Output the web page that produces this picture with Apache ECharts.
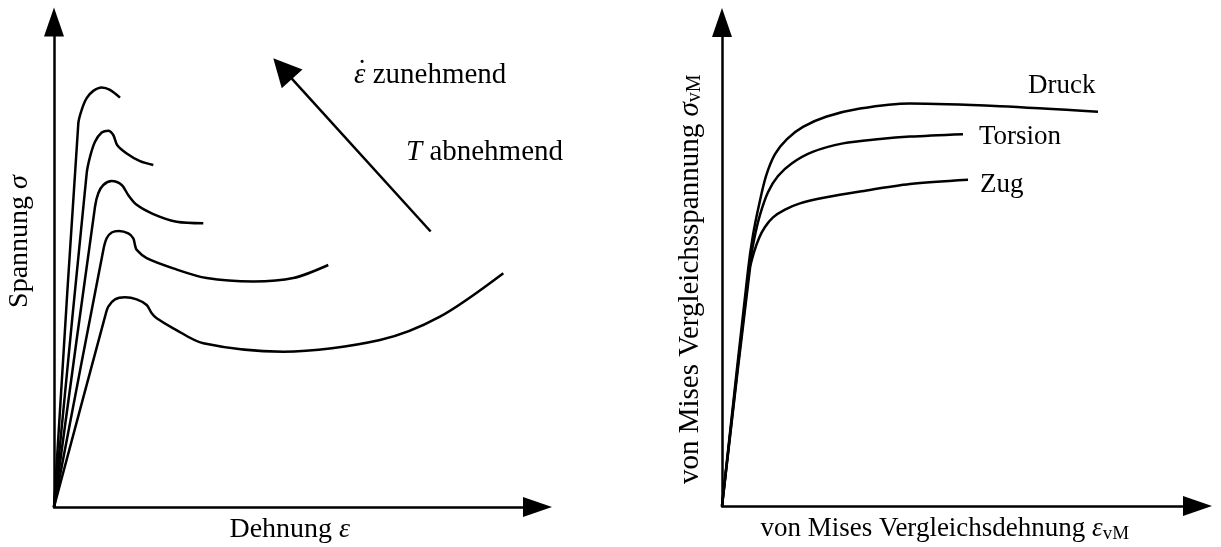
<!DOCTYPE html>
<html>
<head>
<meta charset="utf-8">
<script src="https://cdn.jsdelivr.net/npm/echarts@6/dist/echarts.min.js"></script>
<style>
  html, body { margin: 0; padding: 0; background: #fff; }
  #chart { width: 1221px; height: 547px; }
</style>
</head>
<body>
<div id="chart"></div>
<script>
// Left panel: flow curves sigma(epsilon), top curve = highest strain rate / lowest temperature.
// Units are arbitrary (0..100 along each axis).
const flowCurve1 = [[0, 0], [5.03, 79.1], [5.73, 81.9], [6.76, 84.3], [8.13, 85.8], [9.87, 86.5], [11.58, 86.0], [13.65, 84.4]];
const flowCurve2 = [[0, 0], [6.76, 68.8], [7.45, 72.2], [8.48, 75.3], [9.87, 77.2], [11.23, 77.6], [12.26, 76.7], [13.09, 74.6], [15.04, 72.9], [17.79, 71.3], [20.54, 70.5]];
const flowCurve3 = [[0, 0], [8.48, 61.9], [9.16, 64.7], [10.2, 66.4], [11.93, 67.2], [14.0, 66.4], [15.37, 64.3], [17.1, 62.3], [20.54, 60.4], [25.38, 58.8], [30.88, 58.5]];
const flowCurve4 = [[0, 0], [10.2, 53.0], [10.9, 55.4], [11.93, 56.6], [13.44, 56.9], [15.37, 56.4], [16.4, 55.4], [16.75, 54.0], [17.1, 53.0], [19.17, 51.3], [24.67, 49.2], [31.58, 47.2], [41.22, 46.5], [49.49, 47.2], [56.73, 49.9]];
const flowCurve5 = [[0, 0], [10.55, 39.24], [11.23, 41.3], [12.62, 42.82], [14.68, 43.24], [17.1, 42.82], [19.17, 41.65], [20.21, 39.94], [21.24, 38.9], [24.67, 36.85], [30.88, 33.75], [47.43, 32.02], [67.43, 34.43], [79.83, 39.24], [92.93, 48.19]];

// Trend arrow (tail, head) in left-panel units
const trendArrow = [[77.9, 56.8], [47.3, 90.4]];

// Right panel: von Mises equivalent stress vs. equivalent strain for three load cases
const druckCurve   = [[0, 0], [5.47, 48.8], [6.52, 56.05], [7.78, 62.25], [9.25, 68.25], [11.15, 72.8], [13.67, 75.9], [17.03, 78.4], [21.87, 80.5], [29.02, 82.2], [39.54, 83.25], [58.46, 82.7], [79.07, 81.55]];
const torsionCurve = [[0, 0], [5.68, 48.8], [6.73, 55.0], [7.99, 60.2], [9.67, 64.9], [11.78, 68.25], [14.72, 70.9], [18.93, 73.2], [25.45, 75.0], [33.23, 75.9], [39.54, 76.4], [50.68, 76.9]];
const zugCurve     = [[0, 0], [5.89, 49.2], [6.73, 52.5], [7.78, 55.4], [9.04, 57.7], [10.73, 59.7], [13.25, 61.3], [16.4, 62.6], [21.66, 63.8], [29.02, 65.05], [39.54, 66.6], [51.74, 67.5]];

const SERIF = '"Liberation Serif", "DejaVu Serif", serif';
const INK = '#000';

// rich-text styles: m = roman, e = italic symbol, s = roman subscript
function richStyles(fs) {
  return {
    m: { fontFamily: SERIF, fontSize: fs, color: INK, lineHeight: 32 },
    e: { fontFamily: SERIF, fontSize: fs, color: INK, fontStyle: 'italic', lineHeight: 32 },
    s: { fontFamily: SERIF, fontSize: Math.round(fs * 0.7), color: INK, lineHeight: 19, verticalAlign: 'bottom', padding: [0, 0, 1, 0] }
  };
}

function arrowAxis(name, extra) {
  return Object.assign({
    type: 'value',
    min: 0,
    max: 100,
    name: name,
    nameLocation: 'middle',
    axisLine: {
      show: true,
      onZero: false,
      symbol: ['none', 'triangle'],
      symbolSize: [20, 29],
      lineStyle: { color: INK, width: 2.5 }
    },
    axisTick: { show: false },
    axisLabel: { show: false },
    splitLine: { show: false }
  }, extra || {});
}

function curve(data, xi, name, label) {
  const s = {
    type: 'line',
    name: name || '',
    xAxisIndex: xi,
    yAxisIndex: xi,
    data: data,
    showSymbol: false,
    symbol: 'none',
    smooth: 0.3,
    silent: true,
    lineStyle: { color: INK, width: 2.5 },
    z: 3
  };
  if (label) {
    s.endLabel = Object.assign({
      show: true,
      formatter: '{a}',
      distance: 0,
      fontFamily: SERIF,
      fontSize: 27,
      color: INK
    }, label);
  }
  return s;
}

const chart = echarts.init(document.getElementById('chart'), null, { renderer: 'canvas' });

chart.setOption({
  backgroundColor: '#fff',
  animation: false,
  grid: [
    { left: 54, top: 22, width: 483.5, height: 485, containLabel: false, outerBoundsMode: 'none' },
    { left: 722, top: 22.5, width: 475.5, height: 483.5, containLabel: false, outerBoundsMode: 'none' }
  ],
  xAxis: [
    arrowAxis('{m|Dehnung }{e|ε}', { gridIndex: 0, nameGap: 7, nameTextStyle: { rich: richStyles(28), padding: [0, 12, 0, 0] } }),
    arrowAxis('{m|von Mises Vergleichsdehnung }{e|ε}{s|vM}', { gridIndex: 1, nameGap: 7, nameTextStyle: { rich: richStyles(27), padding: [0, 30, 0, 0] } })
  ],
  yAxis: [
    arrowAxis('{m|Spannung }{e|σ}', { gridIndex: 0, nameGap: 18, nameTextStyle: { rich: richStyles(28), padding: [0, 0, 0, 46] } }),
    arrowAxis('{m|von Mises Vergleichsspannung }{e|σ}{s|vM}', { gridIndex: 1, nameGap: 16, nameTextStyle: { rich: richStyles(29), padding: [0, 30, 0, 0] } })
  ],
  graphic: [
    {
      type: 'text', left: 354, top: 61, silent: true,
      style: { text: '{e|ε}{m| zunehmend}', rich: richStyles(29) }
    },
    {
      // dot accent over the strain-rate symbol
      type: 'text', x: 362, y: 72, silent: true,
      style: { text: '˙', fontFamily: SERIF, fontSize: 29, fill: INK, align: 'center', verticalAlign: 'middle' }
    },
    {
      type: 'text', left: 406, top: 138, silent: true,
      style: { text: '{e|T}{m| abnehmend}', rich: richStyles(29) }
    }
  ],
  series: [
    curve(flowCurve1, 0),
    curve(flowCurve2, 0),
    curve(flowCurve3, 0),
    curve(flowCurve4, 0),
    curve(flowCurve5, 0),
    {
      type: 'lines',
      coordinateSystem: 'cartesian2d',
      xAxisIndex: 0,
      yAxisIndex: 0,
      silent: true,
      symbol: ['none', 'triangle'],
      symbolSize: [19, 28],
      lineStyle: { color: INK, width: 2.5, opacity: 1, curveness: 0 },
      data: [{ coords: trendArrow }],
      z: 4
    },
    curve(druckCurve, 1, 'Druck', { offset: [-70, -26] }),
    curve(torsionCurve, 1, 'Torsion', { offset: [16, 3] }),
    curve(zugCurve, 1, 'Zug', { offset: [12, 5] })
  ]
});
</script>
</body>
</html>
